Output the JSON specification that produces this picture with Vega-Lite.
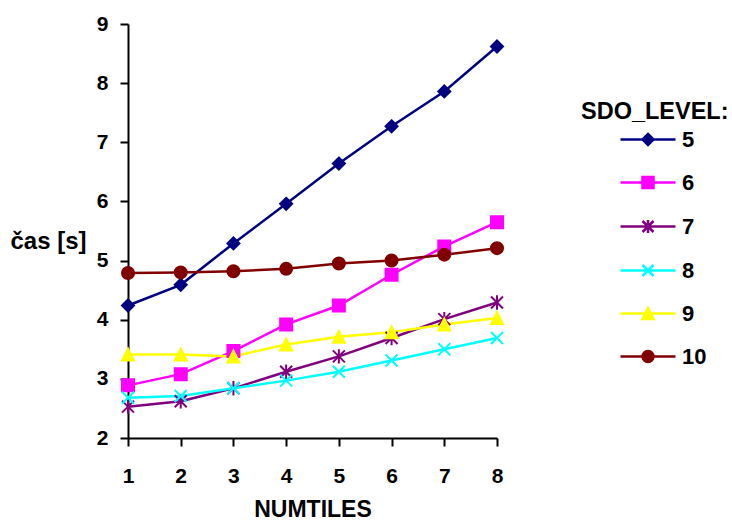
{
  "$schema": "https://vega.github.io/schema/vega-lite/v6.json",
  "width": 369,
  "height": 414,
  "autosize": {"type": "none"},
  "padding": {"left": 128, "top": 24, "right": 235, "bottom": 82},
  "background": "white",
  "config": {
    "view": {"stroke": null},
    "font": "Liberation Sans",
    "axis": {
      "grid": false,
      "domainColor": "black",
      "domainWidth": 2,
      "tickColor": "black",
      "tickWidth": 2,
      "tickSize": 8,
      "labelColor": "black",
      "labelFont": "Liberation Sans",
      "labelFontWeight": "bold",
      "labelFontSize": 21,
      "titleColor": "black",
      "titleFont": "Liberation Sans",
      "titleFontWeight": "bold",
      "titleFontSize": 23
    }
  },
  "data": {
    "values": [
      {"n": 1, "SDO": "5", "t": 4.24}, {"n": 2, "SDO": "5", "t": 4.59}, {"n": 3, "SDO": "5", "t": 5.29}, {"n": 4, "SDO": "5", "t": 5.96},
      {"n": 5, "SDO": "5", "t": 6.64}, {"n": 6, "SDO": "5", "t": 7.27}, {"n": 7, "SDO": "5", "t": 7.86}, {"n": 8, "SDO": "5", "t": 8.62},
      {"n": 1, "SDO": "6", "t": 2.89}, {"n": 2, "SDO": "6", "t": 3.08}, {"n": 3, "SDO": "6", "t": 3.47}, {"n": 4, "SDO": "6", "t": 3.92},
      {"n": 5, "SDO": "6", "t": 4.24}, {"n": 6, "SDO": "6", "t": 4.76}, {"n": 7, "SDO": "6", "t": 5.24}, {"n": 8, "SDO": "6", "t": 5.65},
      {"n": 1, "SDO": "7", "t": 2.53}, {"n": 2, "SDO": "7", "t": 2.62}, {"n": 3, "SDO": "7", "t": 2.84}, {"n": 4, "SDO": "7", "t": 3.12},
      {"n": 5, "SDO": "7", "t": 3.38}, {"n": 6, "SDO": "7", "t": 3.69}, {"n": 7, "SDO": "7", "t": 4.01}, {"n": 8, "SDO": "7", "t": 4.29},
      {"n": 1, "SDO": "8", "t": 2.68}, {"n": 2, "SDO": "8", "t": 2.71}, {"n": 3, "SDO": "8", "t": 2.84}, {"n": 4, "SDO": "8", "t": 2.97},
      {"n": 5, "SDO": "8", "t": 3.12}, {"n": 6, "SDO": "8", "t": 3.31}, {"n": 7, "SDO": "8", "t": 3.5}, {"n": 8, "SDO": "8", "t": 3.69},
      {"n": 1, "SDO": "9", "t": 3.41}, {"n": 2, "SDO": "9", "t": 3.41}, {"n": 3, "SDO": "9", "t": 3.38}, {"n": 4, "SDO": "9", "t": 3.58},
      {"n": 5, "SDO": "9", "t": 3.71}, {"n": 6, "SDO": "9", "t": 3.79}, {"n": 7, "SDO": "9", "t": 3.92}, {"n": 8, "SDO": "9", "t": 4.03},
      {"n": 1, "SDO": "10", "t": 4.79}, {"n": 2, "SDO": "10", "t": 4.8}, {"n": 3, "SDO": "10", "t": 4.82}, {"n": 4, "SDO": "10", "t": 4.86},
      {"n": 5, "SDO": "10", "t": 4.95}, {"n": 6, "SDO": "10", "t": 5.0}, {"n": 7, "SDO": "10", "t": 5.1}, {"n": 8, "SDO": "10", "t": 5.21}
    ]
  },
  "encoding": {
    "x": {
      "field": "n", "type": "quantitative",
      "scale": {"domain": [1, 8], "nice": false, "zero": false},
      "axis": {"values": [1, 2, 3, 4, 5, 6, 7, 8], "title": "NUMTILES", "labelPadding": 19, "titleBaseline": "alphabetic", "titleY": 78, "titleX": 184.5, "labelFlush": false}
    },
    "y": {
      "field": "t", "type": "quantitative",
      "scale": {"domain": [2, 9], "nice": false, "zero": false},
      "axis": {"values": [2, 3, 4, 5, 6, 7, 8, 9], "title": "čas [s]", "titleFontSize": 24, "labelPadding": 12, "titleAngle": 0, "titleAlign": "left", "titleBaseline": "alphabetic", "titleX": -118, "titleY": 224, "labelFlush": false}
    },
    "color": {
      "field": "SDO", "type": "nominal",
      "scale": {"domain": ["5", "6", "7", "8", "9", "10"], "range": ["#000080", "#FF00FF", "#800080", "#00FFFF", "#FFFF00", "#800000"]},
      "legend": {
        "title": "SDO_LEVEL:",
        "orient": "none",
        "legendX": 453,
        "legendY": 76,
        "padding": 0,
        "titleFont": "Liberation Sans",
        "titleFontSize": 23.5,
        "titleFontWeight": "bold",
        "titleColor": "black",
        "titleLimit": 300,
        "titlePadding": 5,
        "labelFont": "Liberation Sans",
        "labelFontSize": 22,
        "labelFontWeight": "bold",
        "labelColor": "black",
        "symbolSize": 121,
        "symbolStrokeWidth": 2.5,
        "symbolOpacity": 1,
        "symbolOffset": 56,
        "labelOffset": 23,
        "rowPadding": 21
      }
    },
    "stroke": {
      "field": "SDO", "type": "nominal",
      "scale": {"domain": ["5", "6", "7", "8", "9", "10"], "range": ["#000080", "#FF00FF", "#800080", "#00FFFF", "#FFFF00", "#800000"]},
      "legend": null
    }
  },
  "layer": [
    {
      "transform": [{"filter": "datum.n > 100"}],
      "mark": {"type": "point", "filled": true, "opacity": 1, "size": 121, "strokeWidth": 2.5},
      "encoding": {
        "shape": {
          "field": "SDO", "type": "nominal",
          "scale": {"domain": ["5", "6", "7", "8", "9", "10"], "range": ["M-5,0H5M0,-1L1,0L0,1L-1,0Z", "M-5,0H5M-1,-1H1V1H-1Z", "M-5,0H5M-1,-1L1,1M-1,1L1,-1M0,-1.2V1.2", "M-5,0H5M-1,-1L1,1M-1,1L1,-1", "M-5,0H5M0,-1L1,1H-1Z", "M-5,0H5M1,0A1,1,0,1,1,-1,0A1,1,0,1,1,1,0Z"]},
          "legend": null
        }
      }
    },
    {
      "mark": {"type": "line", "strokeWidth": 2.5}
    },
    {
      "mark": {
        "type": "point", "filled": true, "opacity": 1, "size": 144, "strokeWidth": 2,
        "shape": {"expr": "datum.SDO == '5' ? 'M0,-1L1,0L0,1L-1,0Z' : datum.SDO == '6' ? 'M-1,-1H1V1H-1Z' : datum.SDO == '7' ? 'M-1,-1L1,1M-1,1L1,-1M0,-1.2V1.2' : datum.SDO == '8' ? 'M-1,-1L1,1M-1,1L1,-1' : datum.SDO == '9' ? 'M0,-1L1,1H-1Z' : 'circle'"}
      }
    }
  ]
}
